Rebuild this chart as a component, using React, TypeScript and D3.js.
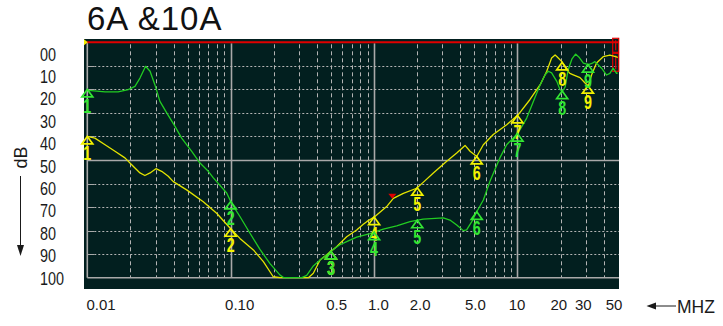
import React from 'react';
import * as d3 from 'd3';

// Conducted emission traces, level in dB below reference vs frequency in MHz
const TITLE = '6A &10A';

const yellowFreq = [0.01, 0.0113, 0.0133, 0.0156, 0.0183, 0.0204, 0.0233, 0.0252, 0.0274, 0.0301, 0.033, 0.0367, 0.0398, 0.0493, 0.0644, 0.0798, 0.0989, 0.116, 0.144, 0.169, 0.198, 0.221, 0.348, 0.377, 0.42, 0.467, 0.519, 0.548, 0.644, 0.756, 0.841, 0.888, 1.014, 1.224, 1.362, 1.6, 1.98, 2.2, 2.59, 3.21, 3.77, 4.31, 4.67, 5.2, 5.78, 6.78, 8.41, 10.1, 12.2, 14.4, 16.0, 17.3, 18.3, 18.8, 20.3, 22.0, 23.2, 24.5, 27.3, 29.6, 31.2, 32.9, 35.6, 39.6, 44.1, 49.1, 50];
const yellowDb = [40, 40.7, 43.5, 46.3, 49.1, 52, 55.5, 56.6, 55.5, 53.7, 54.8, 56.9, 59.2, 62.7, 67.7, 72.6, 78.9, 83.3, 88.2, 93.2, 99.6, 100, 100, 98.1, 92.5, 90.3, 88, 86.8, 82.6, 79.7, 77.3, 76.2, 74, 69.8, 66.3, 64.2, 62, 59.5, 55.5, 50.5, 47, 43.8, 46.3, 48.5, 43.5, 39.2, 35, 30.8, 24.4, 18, 12.3, 6.7, 5.4, 6, 8.1, 11.6, 13.2, 13.8, 15, 17.3, 18.6, 13.8, 8.8, 6.1, 5.4, 6.2, 6.5];

const greenFreq = [0.01, 0.0102, 0.0133, 0.0164, 0.0193, 0.0215, 0.0233, 0.0255, 0.0274, 0.0296, 0.0321, 0.0358, 0.0409, 0.0455, 0.0535, 0.0611, 0.0698, 0.0757, 0.0938, 0.1016, 0.116, 0.136, 0.16, 0.188, 0.221, 0.235, 0.313, 0.339, 0.377, 0.42, 0.467, 0.519, 0.578, 0.644, 0.756, 0.937, 1.026, 1.159, 1.438, 1.78, 2.2, 3.04, 3.38, 3.77, 4.19, 4.42, 4.8, 5.2, 5.78, 6.43, 7.55, 8.41, 10.1, 11.6, 13.2, 14.4, 15.6, 16.4, 17.3, 18.8, 19.8, 20.6, 21.5, 22.5, 24.0, 25.4, 27.0, 28.8, 31.2, 33.0, 34.7, 38.6, 41.8, 44.1, 46.5, 49.1, 50];
const greenDb = [20, 20.4, 21.1, 21.1, 20.1, 18.7, 15.2, 10.2, 12.3, 18, 25.1, 30, 35.7, 40.7, 46.3, 51.3, 54.8, 57.6, 64, 68.5, 74, 81, 88, 94, 98.9, 100, 100, 99, 95, 92.5, 90.4, 88, 86, 84.7, 82.8, 81.3, 80.4, 79.4, 78, 76.2, 75.1, 74.6, 75.5, 77.6, 80, 79.7, 76.2, 72, 67, 59, 49, 43.5, 38.5, 32.2, 23.7, 18, 13.8, 12.3, 13, 16.6, 20.1, 20.8, 19, 12, 7, 5, 6.5, 8.8, 9.5, 9, 8.2, 11, 13.9, 13.2, 11, 13.2, 13];

const markerIds = ['1', '2', '3', '4', '5', '6', '7', '8', '9'];
const markerFreq = [0.01, 0.1, 0.5, 1, 2, 5.2, 10, 20.5, 31];
const deltaMarkerFreq = 1.34;

const xTickValues = [0.01, 0.1, 0.5, 1, 2, 5, 10, 20, 30, 50];
const xTickLabels = ['0.01', '0.10', '0.5', '1.0', '2.0', '5.0', '10', '20', '30', '50'];
const yTickValues = [0, 10, 20, 30, 40, 50, 60, 70, 80, 90, 100];
const yTickLabels = ['00', '10', '20', '30', '40', '50', '60', '70', '80', '90', '100'];

const W = 723;
const H = 326;

const x = d3.scaleLog().domain([0.01, 50]).range([87.3, 617.7]);
const y = d3.scaleLinear().domain([0, 100]).range([42.3, 277.7]);
const xLabelPos = d3.scaleLog().domain([0.01, 50]).range([101, 614]);
const yLabelPos = d3.scaleLinear().domain([0, 100]).range([54, 278]);

const PANEL = '#021f1f';
const GRID = '#b4b4b4';
const YELLOW = '#e4e400';
const GREEN = '#22cc22';
const YELLOW_MK = '#f2f200';
const GREEN_MK = '#33e633';

function levelAt(freqs: number[], dbs: number[], f: number): number {
  for (let i = 0; i < freqs.length - 1; i++) {
    if (f >= freqs[i] && f <= freqs[i + 1]) {
      const t = (Math.log(f) - Math.log(freqs[i])) / (Math.log(freqs[i + 1]) - Math.log(freqs[i]));
      return dbs[i] + t * (dbs[i + 1] - dbs[i]);
    }
  }
  return dbs[dbs.length - 1];
}

const line = d3
  .line<[number, number]>()
  .x((d) => x(d[0]))
  .y((d) => y(d[1]));

function Trace({ freqs, dbs, color }: { freqs: number[]; dbs: number[]; color: string }) {
  const pts = freqs.map((f, i) => [f, dbs[i]] as [number, number]);
  return <path d={line(pts) || ''} fill="none" stroke={color} strokeWidth={1.3} strokeLinejoin="round" />;
}

function Markers({ freqs, dbs, color }: { freqs: number[]; dbs: number[]; color: string }) {
  return (
    <g>
      {markerFreq.map((f, i) => {
        const px = x(f);
        const py = y(levelAt(freqs, dbs, f));
        return (
          <g key={i}>
            <path
              d={`M${px},${py} L${px - 5.5},${py + 7.5} L${px + 5.5},${py + 7.5} Z`}
              fill="none"
              stroke={color}
              strokeWidth={1.7}
            />
            <text
              transform={`translate(${px},${py + 23.5}) scale(0.68,1)`}
              textAnchor="middle"
              fontFamily="'Liberation Sans', Arial, sans-serif"
              fontSize={21}
              fontWeight="bold"
              fill={color}
            >
              {markerIds[i]}
            </text>
          </g>
        );
      })}
    </g>
  );
}

export default function App() {
  const gridFreqs = x.ticks();
  const x0 = x.range()[0];
  const x1 = x.range()[1];
  const yTop = y(0);
  const yBot = y(100);
  const redX = x(deltaMarkerFreq);
  const redY = y(levelAt(yellowFreq, yellowDb, deltaMarkerFreq));

  return (
    <svg
      width={W}
      height={H}
      viewBox={`0 0 ${W} ${H}`}
      style={{ position: 'fixed', left: 0, top: 0, background: '#ffffff' }}
      fontFamily="'Liberation Sans', Arial, sans-serif"
    >
      <text x={87} y={29.5} fontSize={33} letterSpacing={1} fill="#111">
        {TITLE}
      </text>

      {/* instrument screen */}
      <rect x={x0 - 3.3} y={yTop - 3.3} width={x1 - x0 + 4.6} height={yBot - yTop + 14.6} fill={PANEL} />

      {/* vertical grid */}
      {gridFreqs.map((f, i) => {
        const decade = Math.abs(Math.log10(f) - Math.round(Math.log10(f))) < 1e-6;
        if (f <= 0.01 || f >= 50) return null;
        const gx = Math.round(x(f)) + 0.5;
        return decade ? (
          <line key={i} x1={gx} x2={gx} y1={yTop + 1} y2={yBot} stroke="#a9a9a9" strokeWidth={1.6} />
        ) : (
          <line key={i} x1={gx} x2={gx} y1={yTop + 2} y2={yBot} stroke={GRID} strokeWidth={1} strokeDasharray="4,3" />
        );
      })}

      {/* horizontal grid */}
      {yTickValues.map((v, i) => {
        if (v === 0 || v === 100) return null;
        const gy = Math.round(y(v)) + 0.5;
        return v === 50 ? (
          <line key={i} x1={x0} x2={x1 + 1.3} y1={gy} y2={gy} stroke="#a9a9a9" strokeWidth={1.6} />
        ) : (
          <g key={i}>
            <line x1={x0 + 7} x2={x1 + 1.3} y1={gy} y2={gy} stroke={GRID} strokeWidth={1} strokeDasharray="2,2" />
            <line x1={x0} x2={x0 + 7} y1={gy} y2={gy} stroke="#a9a9a9" strokeWidth={1} />
          </g>
        );
      })}

      {/* frame */}
      <line x1={x0} x2={x0} y1={yTop} y2={yBot} stroke="#a9a9a9" strokeWidth={1.6} />
      <line x1={x0} x2={x1 + 1.3} y1={yBot} y2={yBot} stroke="#a9a9a9" strokeWidth={1.6} />

      {/* reference level */}
      <line x1={x0 - 3.3} x2={x1 + 1.3} y1={yTop} y2={yTop} stroke="#e00000" strokeWidth={2} />
      <path d={`M${x0 - 3.3},${yTop - 3} L${x0 + 0.5},${yTop} L${x0 - 3.3},${yTop + 3} Z`} fill="#f0f000" />
      <rect x={x1 - 5} y={yTop - 4} width={6} height={14} fill="none" stroke="#e00000" strokeWidth={1.2} />
      <rect x={x1 - 5} y={yTop + 11} width={6} height={18} fill="none" stroke="#e00000" strokeWidth={1.2} />
      <line x1={x1 - 2} x2={x1 - 2} y1={yTop - 2} y2={yTop + 8} stroke="#e00000" strokeWidth={1.2} />
      <line x1={x1 - 2} x2={x1 - 2} y1={yTop + 13} y2={yTop + 27} stroke="#e00000" strokeWidth={1.2} />

      <Trace freqs={yellowFreq} dbs={yellowDb} color={YELLOW} />
      <Trace freqs={greenFreq} dbs={greenDb} color={GREEN} />
      <Markers freqs={yellowFreq} dbs={yellowDb} color={YELLOW_MK} />
      <Markers freqs={greenFreq} dbs={greenDb} color={GREEN_MK} />

      <path d={`M${redX - 4},${redY - 6} L${redX + 4},${redY - 6} L${redX},${redY - 1} Z`} fill="#e00000" />

      {/* y labels */}
      {yTickValues.map((v, i) => (
        <text
          key={i}
          transform={`translate(40,${yLabelPos(v)}) scale(0.8,1)`}
          dominantBaseline="central"
          fontSize={18}
          fill="#1a1a1a"
        >
          {yTickLabels[i]}
        </text>
      ))}

      {/* x labels */}
      {xTickValues.map((v, i) => (
        <text key={i} x={xLabelPos(v)} y={310} textAnchor="middle" fontSize={15} fill="#1a1a1a">
          {xTickLabels[i]}
        </text>
      ))}

      {/* axis captions */}
      <text transform="translate(21,157.5) rotate(-90)" textAnchor="middle" dominantBaseline="central" fontSize={18} fill="#1a1a1a">
        dB
      </text>
      <line x1={20.5} x2={20.5} y1={176} y2={248} stroke="#1a1a1a" strokeWidth={1} />
      <path d="M17,245 L24,245 L20.5,256 Z" fill="#1a1a1a" />

      <line x1={652} x2={676} y1={306} y2={306} stroke="#1a1a1a" strokeWidth={1} />
      <path d="M656,302.5 L656,309.5 L646.5,306 Z" fill="#1a1a1a" />
      <text x={677} y={312.5} fontSize={17.5} fill="#1a1a1a">
        MHZ
      </text>
    </svg>
  );
}
